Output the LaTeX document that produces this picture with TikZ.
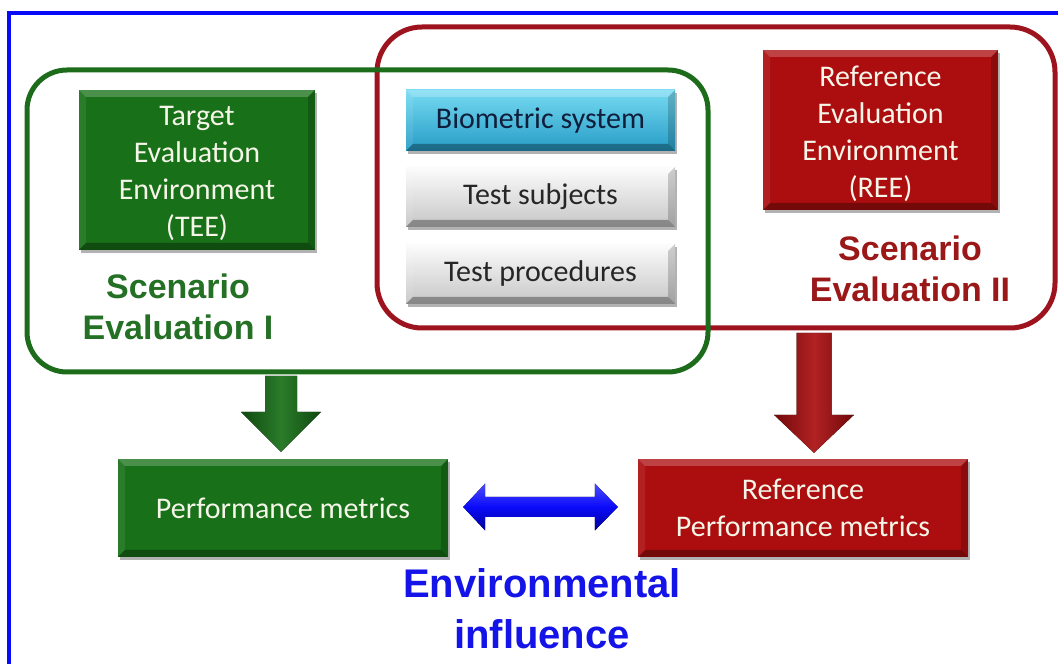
\documentclass[tikz,border=0pt]{standalone}
\usepackage{fontspec}
\setmainfont{Carlito}
\newfontfamily\headfont{Liberation Sans}
\usetikzlibrary{calc,shadows}

\definecolor{gline}{RGB}{28,108,28}
\definecolor{gfill}{RGB}{24,112,24}
\definecolor{glabel}{RGB}{36,112,36}
\definecolor{rline}{RGB}{158,20,30}
\definecolor{rfill}{RGB}{172,14,16}
\definecolor{rlabel}{RGB}{155,24,24}
\definecolor{bframe}{RGB}{10,10,250}
\definecolor{blabel}{RGB}{20,20,232}
\definecolor{cyantop}{RGB}{118,218,242}
\definecolor{cyanbot}{RGB}{38,156,198}
\definecolor{graytop}{RGB}{252,252,252}
\definecolor{graybot}{RGB}{198,198,198}
\definecolor{btxt}{RGB}{16,30,60}
\definecolor{ltxt}{RGB}{245,245,232}

% raised block arrow pointing down: #1 top centre, #2 tip,
% #3 half shaft width, #4 half head width, #5 head length, #6 style
\newcommand\blockdown[6]{%
  \fill[#6] ($(#1)+(-#3,0)$) -- ($(#1)+(#3,0)$) -- ($(#2)+(#3,#5)$)
    -- ($(#2)+(#4,#5)$) -- (#2) -- ($(#2)+(-#4,#5)$)
    -- ($(#2)+(-#3,#5)$) -- cycle;}

\tikzset{
  bevel/.style={path picture={
    \fill[white,opacity=0.22]
      (path picture bounding box.north west) -- (path picture bounding box.north east)
      -- ([shift={(-7pt,-7pt)}]path picture bounding box.north east)
      -- ([shift={(7pt,-7pt)}]path picture bounding box.north west) -- cycle;
    \fill[white,opacity=0.08]
      (path picture bounding box.north west) -- (path picture bounding box.south west)
      -- ([shift={(7pt,7pt)}]path picture bounding box.south west)
      -- ([shift={(7pt,-7pt)}]path picture bounding box.north west) -- cycle;
    \fill[black,opacity=0.18]
      (path picture bounding box.north east) -- (path picture bounding box.south east)
      -- ([shift={(-7pt,7pt)}]path picture bounding box.south east)
      -- ([shift={(-7pt,-7pt)}]path picture bounding box.north east) -- cycle;
    \fill[black,opacity=0.32]
      (path picture bounding box.south west) -- (path picture bounding box.south east)
      -- ([shift={(-7pt,7pt)}]path picture bounding box.south east)
      -- ([shift={(7pt,7pt)}]path picture bounding box.south west) -- cycle;
  }},
  boxtext/.style={align=center, inner sep=0pt, font=\fontsize{30}{37}\selectfont},
  raised/.style={bevel, boxtext,
    drop shadow={shadow xshift=2pt, shadow yshift=-3pt, opacity=0.3, fill=black}},
  greenbox/.style={raised, fill=gfill, text=ltxt},
  redbox/.style={raised, fill=rfill, text=ltxt},
  cyanbox/.style={raised, top color=cyantop, bottom color=cyanbot, text=btxt},
  graybox/.style={raised, top color=graytop, bottom color=graybot, text=black!85},
  container/.style={draw, line width=5pt, fill=none, inner sep=0pt},
  scenario/.style={align=center, font=\headfont\bfseries\fontsize{34}{41}\selectfont},
}

\begin{document}
\begin{tikzpicture}[x=1pt, y=1pt]
\useasboundingbox (0,0) rectangle (1058,664);
\fill[white] (0,0) rectangle (1058,664);

% outer frame (top and left edges)
\draw[bframe, line width=4pt] (9,0) -- (9,651) -- (1058,651);

% scenario containers
\node[container, draw=rline, rounded corners=45pt, minimum width=678pt, minimum height=301pt]
  (rcont) at (716,486.5) {};
\node[container, draw=gline, rounded corners=40pt, minimum width=681pt, minimum height=302pt]
  (gcont) at (367.5,443) {};

% environment boxes (the strut lowers the text block a little)
\node[greenbox, minimum width=236pt, minimum height=160pt] (tee) at (197,494)
  {\rule{0pt}{26pt}Target\\Evaluation\\Environment\\(TEE)};
\node[redbox, minimum width=235pt, minimum height=160pt] (ree) at (880.5,534)
  {\rule{0pt}{28pt}Reference\\Evaluation\\Environment\\(REE)};

% shared components
\node[cyanbox, minimum width=269pt, minimum height=61pt] (bio) at (540.5,543.5) {Biometric system};
\node[graybox, minimum width=269pt, minimum height=60pt] (subj) at (540.5,467) {Test subjects};
\node[graybox, minimum width=269pt, minimum height=60pt] (proc) at (540.5,390) {Test procedures};

% scenario labels
\node[scenario, text=glabel] (sc1) at (178,357) {Scenario\\Evaluation I};
\node[scenario, text=rlabel] (sc2) at (910,395) {Scenario\\Evaluation II};

% metrics boxes
\node[greenbox, minimum width=330pt, minimum height=98pt] (perf) at (283,156) {Performance metrics};
\node[redbox, minimum width=330pt, minimum height=98pt] (rperf) at (803,156)
  {Reference\\Performance metrics};

% arrows from the scenarios to their metrics
\coordinate (gtop) at (281,288);
\coordinate (gtip) at ($(perf.north -| gtop)+(0,7)$);
\blockdown{gtop}{gtip}{16}{40}{40}{left color=gfill!65!black, right color=gfill!65!black, middle color=gfill!92!white}
\coordinate (rtop) at (814,331);
\coordinate (rtip) at ($(rperf.north -| rtop)+(0,6)$);
\blockdown{rtop}{rtip}{17.5}{40}{38}{left color=rfill!65!black, right color=rfill!65!black, middle color=rfill!92!white}

% environmental influence between the two sets of metrics
\coordinate (bl) at ($(perf.east)+(15,1)$);
\coordinate (br) at ($(rperf.west)+(-20,1)$);
\fill[top color=blue!70!white, bottom color=blue!60!black, middle color=bframe]
  (bl) -- ($(bl)+(22,23.5)$) -- ($(bl)+(22,10)$) -- ($(br)+(-23,10)$)
  -- ($(br)+(-23,23.5)$) -- (br) -- ($(br)+(-23,-23.5)$) -- ($(br)+(-23,-10)$)
  -- ($(bl)+(22,-10)$) -- ($(bl)+(22,-23.5)$) -- cycle;

\node[align=center, text=blabel, font=\headfont\bfseries\fontsize{40}{51}\selectfont]
  (env) at (542,55.5) {Environmental\\influence};
\end{tikzpicture}
\end{document}
